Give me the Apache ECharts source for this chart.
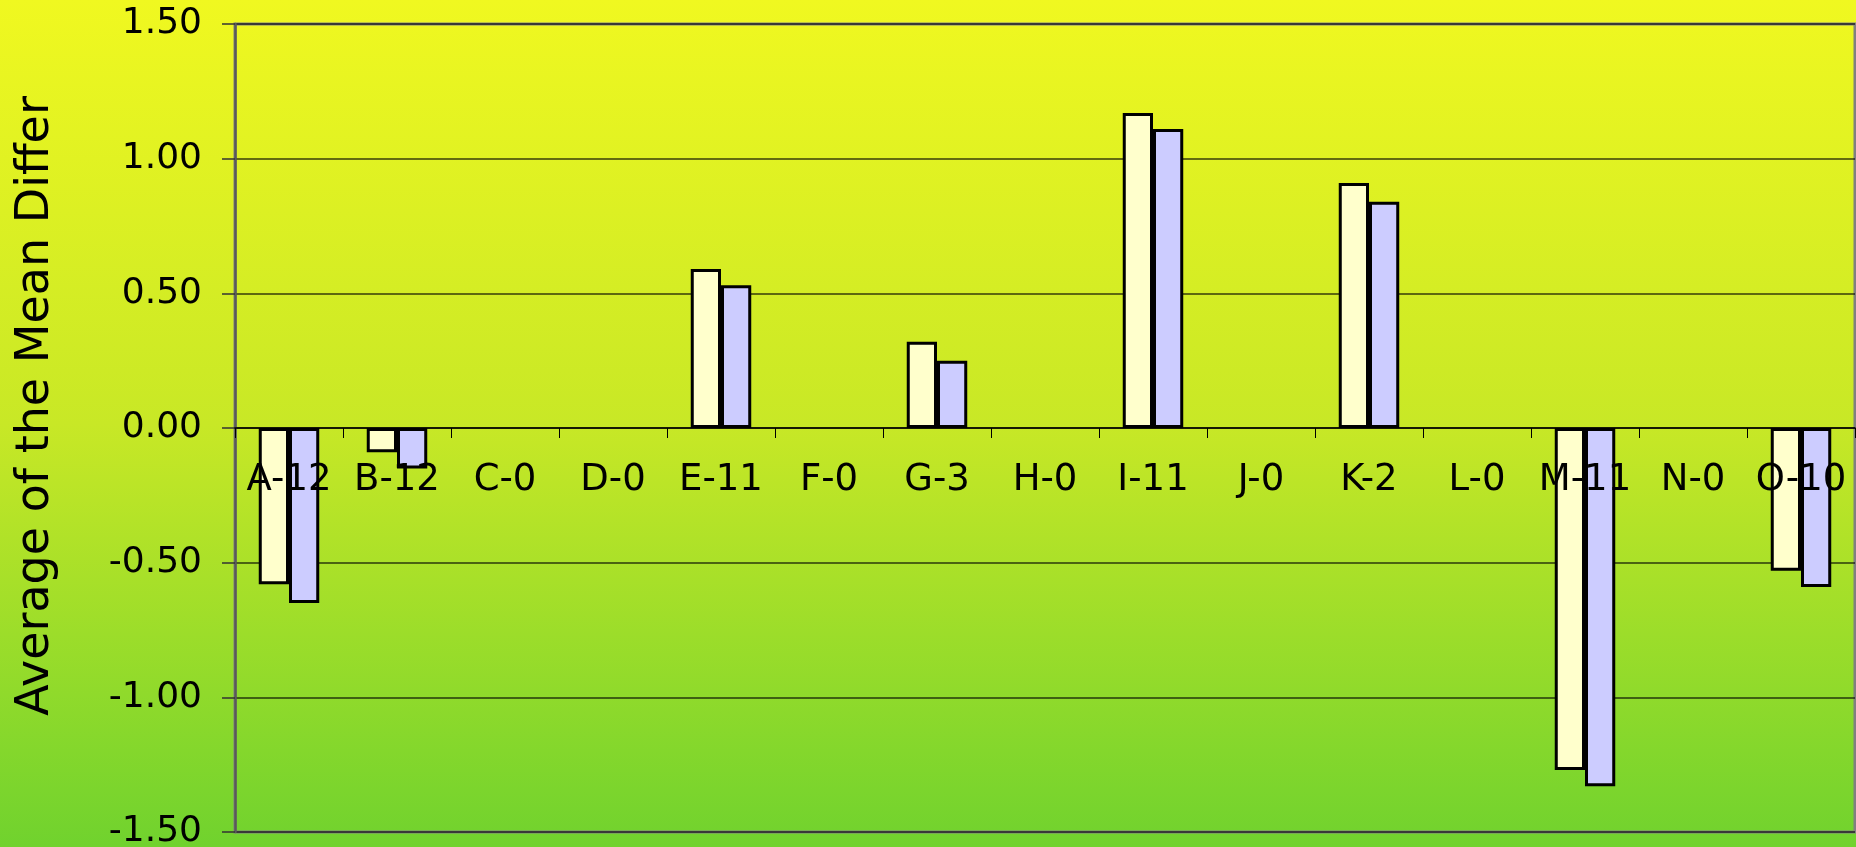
<!DOCTYPE html>
<html>
<head>
<meta charset="utf-8">
<script src="https://cdn.jsdelivr.net/npm/echarts@6/dist/echarts.min.js"></script>
<style>
html,body{margin:0;padding:0;width:100%;height:100%;overflow:hidden;}
#chart{width:1856px;height:847px;}
</style>
</head>
<body>
<div id="chart"></div>
<script>
const categories = ['A-12','B-12','C-0','D-0','E-11','F-0','G-3','H-0','I-11','J-0','K-2','L-0','M-11','N-0','O-10'];
const seriesA = [-0.58, -0.09, null, null, 0.59, null, 0.32, null, 1.17, null, 0.91, null, -1.27, null, -0.53];
const seriesB = [-0.65, -0.15, null, null, 0.53, null, 0.25, null, 1.11, null, 0.84, null, -1.33, null, -0.59];
const yTicks = {min: -1.5, max: 1.5, interval: 0.5};
const yName = 'Average of the Mean Difference';

const FONT = 'DejaVu Sans';
const W = 1856, H = 847;
const G = {left: 235, right: 1, top: 24, bottom: 15};
const gridH = H - G.top - G.bottom;
// place the category axis on the value 0 line
const zeroOffset = -gridH * (0 - yTicks.min) / (yTicks.max - yTicks.min);

const chart = echarts.init(document.getElementById('chart'));
chart.setOption({
  animation: false,
  backgroundColor: {
    type: 'linear', x: 0, y: 0, x2: 0, y2: 1,
    colorStops: [
      {offset: 0, color: '#F0F820'},
      {offset: 0.5, color: '#C8E826'},
      {offset: 1, color: '#70D22E'}
    ]
  },
  grid: {
    left: G.left, right: G.right, top: G.top, bottom: G.bottom,
    outerBoundsMode: 'none',
    containLabel: false,
    show: true, borderColor: '#808080', borderWidth: 3,
    backgroundColor: 'transparent'
  },
  xAxis: {
    type: 'category',
    data: categories,
    position: 'bottom',
    offset: zeroOffset,
    z: 5,
    axisLine: {onZero: false, lineStyle: {color: '#000', width: 1.5}},
    axisTick: {show: true, length: 10, inside: false, lineStyle: {color: '#000', width: 1}},
    axisLabel: {interval: 0, margin: 34, color: '#000', fontFamily: FONT, fontSize: 37}
  },
  yAxis: {
    type: 'value',
    min: yTicks.min, max: yTicks.max, interval: yTicks.interval,
    name: yName,
    nameLocation: 'middle',
    nameGap: 176,
    nameRotate: 90,
    nameTruncate: {maxWidth: 630, ellipsis: ''},
    nameTextStyle: {color: '#000', fontFamily: FONT, fontSize: 46, padding: [0, 0, 0, 44]},
    axisLine: {show: true, lineStyle: {color: '#5a5a5a', width: 2.5}},
    axisTick: {show: true, length: 13, lineStyle: {color: '#333', width: 1.5}},
    axisLabel: {margin: 33, color: '#000', fontFamily: FONT, fontSize: 36,
      formatter: v => v.toFixed(2)},
    splitLine: {show: true, lineStyle: {color: 'rgba(0,0,0,0.75)', width: 1.5}}
  },
  series: [
    {
      type: 'bar', data: seriesA, barGap: '0%', barCategoryGap: '44%',
      itemStyle: {color: '#FFFFCC', borderColor: '#000', borderWidth: 3}
    },
    {
      type: 'bar', data: seriesB, barGap: '0%', barCategoryGap: '44%',
      itemStyle: {color: '#CCCCFF', borderColor: '#000', borderWidth: 3}
    }
  ]
});
</script>
</body>
</html>
